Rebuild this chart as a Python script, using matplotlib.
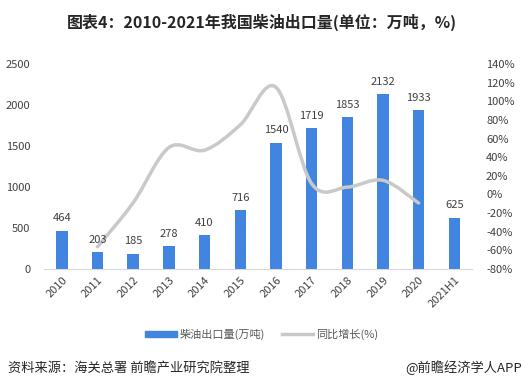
import matplotlib
matplotlib.use("Agg")
from matplotlib import pyplot as plt
from matplotlib.path import Path
from matplotlib.patches import PathPatch
from matplotlib.lines import Line2D
import numpy as np

plt.rcParams['font.family'] = ['Noto Sans CJK SC', 'DejaVu Sans']

years = ['2010', '2011', '2012', '2013', '2014', '2015', '2016', '2017',
         '2018', '2019', '2020', '2021H1']
export = [464, 203, 185, 278, 410, 716, 1540, 1719, 1853, 2132, 1933, 625]
# 同比增长, 2011-2020
growth = [-56.3, -8.9, 50.3, 47.5, 74.6, 115.1, 11.6, 7.8, 15.1, -9.3]

bar_c = '#4285E0'
line_c = '#C9C9C9'
txt_c = '#404040'

fig = plt.figure(figsize=(5.24, 3.88), dpi=100)
ax = fig.add_axes([0.084, 0.307, 0.817, 0.528])
x = np.arange(len(years))
ax.bar(x, export, width=0.32, color=bar_c, zorder=2)

ax.set_xlim(-0.5, len(years) - 0.5)
ax.set_ylim(0, 2500)
ax.set_yticks(range(0, 2501, 500))
ax.set_xticks(x)
ax.set_xticklabels(years, rotation=45, ha='right', rotation_mode='anchor')
for s in ['top', 'right', 'left']:
    ax.spines[s].set_visible(False)
ax.spines['bottom'].set_color('#D9D9D9')
ax.tick_params(axis='both', length=0, labelsize=8, colors=txt_c)
ax.tick_params(axis='y', pad=10)
ax.tick_params(axis='x', pad=4)

ax2 = ax.twinx()
ax2.set_ylim(-80, 140)
ax2.set_yticks(range(-80, 141, 20))
ax2.set_yticklabels([f'{t}%' for t in range(-80, 141, 20)])
for s in ax2.spines.values():
    s.set_visible(False)
ax2.tick_params(axis='y', length=0, labelsize=8, colors=txt_c, pad=10)

# smoothed line (Catmull-Rom -> Bezier) like Excel
gx = x[1:11].astype(float)
gy = np.array(growth, dtype=float)
verts = [(gx[0], gy[0])]
codes = [Path.MOVETO]
n = len(gx)
for i in range(n - 1):
    p0 = (gx[max(i - 1, 0)], gy[max(i - 1, 0)])
    p1 = (gx[i], gy[i])
    p2 = (gx[i + 1], gy[i + 1])
    p3 = (gx[min(i + 2, n - 1)], gy[min(i + 2, n - 1)])
    c1 = (p1[0] + (p2[0] - p0[0]) / 6, p1[1] + (p2[1] - p0[1]) / 6)
    c2 = (p2[0] - (p3[0] - p1[0]) / 6, p2[1] - (p3[1] - p1[1]) / 6)
    verts += [c1, c2, p2]
    codes += [Path.CURVE4] * 3
ax2.add_patch(PathPatch(Path(verts, codes), facecolor='none', edgecolor=line_c,
                        lw=2.5, capstyle='round', zorder=3))

# bar value labels drawn above the line
for xi, v in zip(x, export):
    ax2.text(xi, v + 90, str(v), ha='center', va='bottom', fontsize=8,
             color=txt_c, transform=ax.transData, zorder=5)

handles = [plt.Rectangle((0, 0), 1, 1, color=bar_c),
           Line2D([], [], color=line_c, lw=2.5)]
fig.legend(handles, ['柴油出口量(万吨)', '同比增长(%)'], loc='center',
           bbox_to_anchor=(0.5, 0.138), ncol=2, frameon=False, fontsize=8,
           labelcolor='#595959', handlelength=2.8, handleheight=0.5,
           columnspacing=1.5, handletextpad=0.3)

fig.text(0.5, 0.943, '图表4：2010-2021年我国柴油出口量(单位：万吨，%)', ha='center',
         va='center', fontsize=11.5, fontweight='bold', color='#262626')
fig.text(0.015, 0.052, '资料来源：海关总署 前瞻产业研究院整理', ha='left', va='center',
         fontsize=9.5, color='#262626')
fig.text(0.997, 0.052, '@前瞻经济学人APP', ha='right', va='center',
         fontsize=9.5, color='#262626')

fig.savefig('out.png', dpi=100)
